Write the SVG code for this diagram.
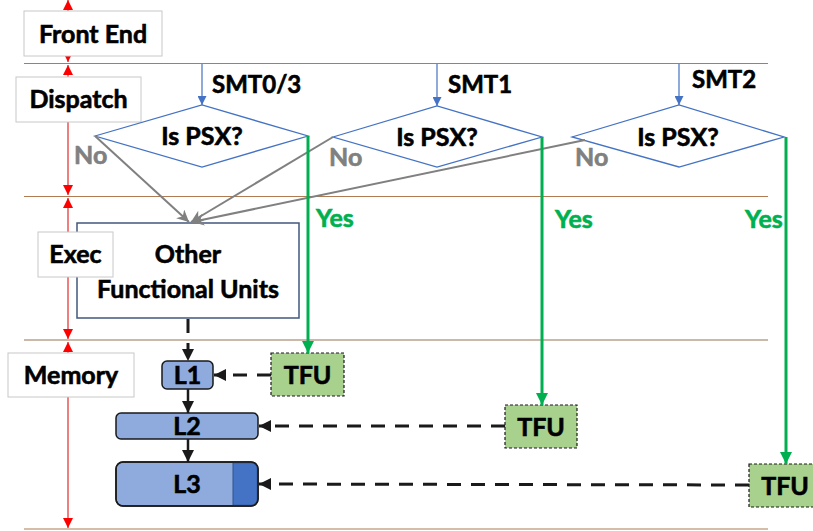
<svg xmlns="http://www.w3.org/2000/svg" width="813" height="531" viewBox="0 0 813 531">
  <style>
    text { font-family: Lato, "Liberation Sans", sans-serif; font-weight: bold; stroke-width: 0.6; }
    .lbl { font-size: 25px; fill: #000; stroke: #000; }
    .stage { fill: #fff; stroke: #c8c8c8; stroke-width: 1; }
    .rule { stroke: #b07a52; stroke-width: 1.2; }
    .rule2 { stroke: #b8a08c; stroke-width: 1.5; }
    .redline { stroke: #e00000; stroke-width: 1; fill: none; marker-start: url(#redS); marker-end: url(#redE); }
    .dia { fill: #fff; stroke: #4472c4; stroke-width: 1.3; }
    .smt { stroke: #4472c4; stroke-width: 1.2; fill: none; marker-end: url(#blueA); }
    .no { stroke: #808080; stroke-width: 2; fill: none; marker-end: url(#grayA); }
    .yes { stroke: #00b050; stroke-width: 3; fill: none; marker-end: url(#greenA); }
    .dash { stroke: #1a1a1a; stroke-width: 3; fill: none; stroke-dasharray: 14 10; marker-end: url(#blackA); }
    .solid { stroke: #1a1a1a; stroke-width: 2.5; fill: none; marker-end: url(#blackA); }
    .cache { fill: #8faadc; stroke: #1a1a1a; stroke-width: 1.5; }
    .tfu { fill: #a9d18e; stroke: #1a1a1a; stroke-width: 1.2; stroke-dasharray: 3 2; }
    .smtl { font-size: 24px; fill: #000; stroke: #000; }
    .gtxt { font-size: 25px; fill: #808080; stroke: #808080; }
    .ytxt { font-size: 25px; fill: #00b050; stroke: #00b050; }
  </style>
  <defs>
    <marker id="redE" markerUnits="userSpaceOnUse" markerWidth="10" markerHeight="10" viewBox="0 0 10 10" refX="10" refY="5" orient="auto">
      <path d="M0,0 L10,5 L0,10 Z" fill="#ff0000"/>
    </marker>
    <marker id="redS" markerUnits="userSpaceOnUse" markerWidth="10" markerHeight="10" viewBox="0 0 10 10" refX="0" refY="5" orient="auto">
      <path d="M10,0 L0,5 L10,10 Z" fill="#ff0000"/>
    </marker>
    <marker id="blueA" markerUnits="userSpaceOnUse" markerWidth="9" markerHeight="9" viewBox="0 0 10 10" refX="10" refY="5" orient="auto">
      <path d="M0,0 L10,5 L0,10 Z" fill="#4472c4"/>
    </marker>
    <marker id="grayA" markerUnits="userSpaceOnUse" markerWidth="12" markerHeight="12" viewBox="0 0 10 10" refX="10" refY="5" orient="auto">
      <path d="M0,0 L10,5 L0,10 L3,5 Z" fill="#808080"/>
    </marker>
    <marker id="greenA" markerUnits="userSpaceOnUse" markerWidth="12" markerHeight="12" viewBox="0 0 10 10" refX="10" refY="5" orient="auto">
      <path d="M0,0 L10,5 L0,10 Z" fill="#00b050"/>
    </marker>
    <marker id="blackA" markerUnits="userSpaceOnUse" markerWidth="12" markerHeight="12" viewBox="0 0 10 10" refX="10" refY="5" orient="auto">
      <path d="M0,0 L10,5 L0,10 Z" fill="#1a1a1a"/>
    </marker>
  </defs>

  <!-- pipeline stage boundaries -->
  <g id="rules">
    <line class="rule" x1="24" y1="63.5" x2="768" y2="63.5"/>
    <line class="rule" x1="24" y1="196.5" x2="768" y2="196.5"/>
    <line class="rule2" x1="24" y1="340" x2="768" y2="340"/>
    <line class="rule" x1="24" y1="529" x2="768" y2="529"/>
  </g>

  <!-- stage extent arrows -->
  <g id="extents">
    <line class="redline" x1="68" y1="0" x2="68" y2="62"/>
    <line class="redline" x1="68" y1="65" x2="68" y2="195"/>
    <line class="redline" x1="68" y1="198" x2="68" y2="339"/>
    <line class="redline" x1="68" y1="342" x2="68" y2="528"/>
  </g>

  <!-- stage labels -->
  <g id="stage-frontend">
    <rect class="stage" x="24" y="11" width="138" height="45"/>
    <text class="lbl" x="93" y="43" text-anchor="middle">Front End</text>
  </g>
  <g id="stage-dispatch">
    <rect class="stage" x="16" y="77" width="125" height="45"/>
    <text class="lbl" x="78.5" y="108" text-anchor="middle">Dispatch</text>
  </g>

  <!-- PSX decision per thread -->
  <g id="decision-smt03">
    <polygon class="dia" points="95,136 202,105 308,136 202,167"/>
    <text class="lbl" x="202" y="145" text-anchor="middle">Is PSX?</text>
  </g>
  <g id="decision-smt1">
    <polygon class="dia" points="333,137 437,106 542,137 437,167"/>
    <text class="lbl" x="437" y="146" text-anchor="middle">Is PSX?</text>
  </g>
  <g id="decision-smt2">
    <polygon class="dia" points="572,137 679,105 784,137 679,167"/>
    <text class="lbl" x="678" y="146" text-anchor="middle">Is PSX?</text>
  </g>

  <!-- execution -->
  <g id="other-units">
    <rect x="77" y="223" width="222" height="95" fill="#fff" stroke="#41577e" stroke-width="1.5"/>
    <text class="lbl" x="188" y="263" text-anchor="middle">Other</text>
    <text class="lbl" x="188" y="298" text-anchor="middle">Functional Units</text>
  </g>
  <g id="stage-exec">
    <rect class="stage" x="38" y="232" width="75" height="45"/>
    <text class="lbl" x="75.5" y="263" text-anchor="middle">Exec</text>
  </g>

  <g id="stage-memory">
    <rect class="stage" x="8" y="353" width="126" height="44"/>
    <text class="lbl" x="71" y="384" text-anchor="middle">Memory</text>
  </g>

  <!-- cache hierarchy -->
  <g id="cache-l1">
    <rect class="cache" x="162" y="361" width="51" height="28" rx="5"/>
    <text class="lbl" x="187.5" y="384" text-anchor="middle">L1</text>
  </g>
  <g id="cache-l2">
    <rect class="cache" x="116" y="413" width="142" height="26" rx="5"/>
    <text class="lbl" x="187" y="435" text-anchor="middle">L2</text>
  </g>
  <g id="cache-l3">
    <rect class="cache" x="116" y="462" width="142" height="44" rx="7"/>
    <path d="M233,462.75 H251 a6.25,6.25 0 0 1 6.25,6.25 V499 a6.25,6.25 0 0 1 -6.25,6.25 H233 Z" fill="#4472c4" stroke="#2f528f" stroke-width="1"/>
    <rect x="116" y="462" width="142" height="44" rx="7" fill="none" stroke="#1a1a1a" stroke-width="1.5"/>
    <text class="lbl" x="187" y="493" text-anchor="middle">L3</text>
  </g>

  <!-- thread functional units -->
  <g id="tfu-1">
    <rect class="tfu" x="271" y="353" width="73" height="43"/>
    <text class="lbl" x="307.5" y="384" text-anchor="middle">TFU</text>
  </g>
  <g id="tfu-2">
    <rect class="tfu" x="505" y="405" width="72" height="43"/>
    <text class="lbl" x="541" y="436" text-anchor="middle">TFU</text>
  </g>
  <g id="tfu-3">
    <rect class="tfu" x="749" y="464" width="66" height="43"/>
    <text class="lbl" x="785" y="495" text-anchor="middle">TFU</text>
  </g>

  <!-- connectors -->
  <g id="connectors">
    <!-- thread entry -->
    <line class="smt" x1="202" y1="64" x2="202" y2="105"/>
    <line class="smt" x1="437" y1="64" x2="437" y2="106"/>
    <line class="smt" x1="679" y1="64" x2="679" y2="105"/>
    <!-- not PSX: to other functional units -->
    <line class="no" x1="95" y1="136" x2="189" y2="222"/>
    <line class="no" x1="333" y1="137" x2="191" y2="222"/>
    <line class="no" x1="585" y1="140" x2="192" y2="222"/>
    <!-- PSX: to thread functional units -->
    <line class="yes" x1="308" y1="136" x2="308" y2="353"/>
    <line class="yes" x1="542" y1="137" x2="542" y2="405"/>
    <line class="yes" x1="786" y1="137" x2="786" y2="464"/>
    <!-- memory paths -->
    <line class="dash" x1="188" y1="319" x2="188" y2="361" stroke-dasharray="9 15 11 100"/>
    <line class="solid" x1="188" y1="389" x2="188" y2="413"/>
    <line class="solid" x1="188" y1="439" x2="188" y2="462"/>
    <line class="dash" x1="271" y1="375" x2="214" y2="375" stroke-dasharray="13 10 14 10"/>
    <line class="dash" x1="505" y1="426" x2="259" y2="426"/>
    <line class="dash" x1="749" y1="485" x2="259" y2="484"/>
  </g>

  <!-- branch labels -->
  <g id="branch-labels">
    <text class="smtl" x="212" y="93">SMT0/3</text>
    <text class="smtl" x="448" y="93">SMT1</text>
    <text class="smtl" x="692" y="88">SMT2</text>
    <text class="gtxt" x="74" y="164">No</text>
    <text class="gtxt" x="329" y="166">No</text>
    <text class="gtxt" x="575" y="166">No</text>
    <text class="ytxt" x="316" y="227">Yes</text>
    <text class="ytxt" x="555" y="228">Yes</text>
    <text class="ytxt" x="745" y="228">Yes</text>
  </g>
</svg>
